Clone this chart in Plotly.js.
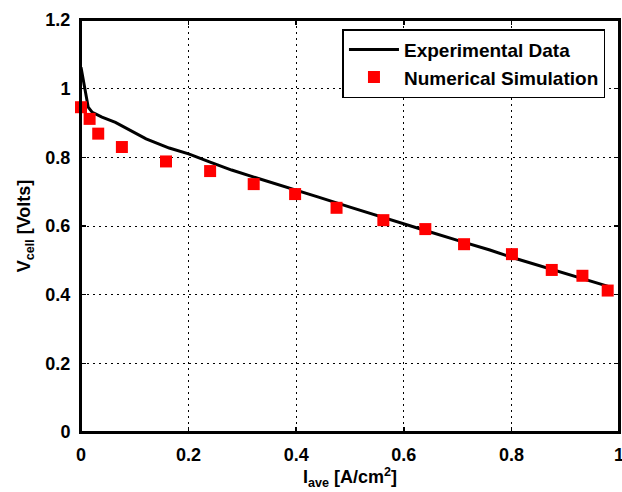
<!DOCTYPE html>
<html>
<head>
<meta charset="utf-8">
<script src="https://cdn.plot.ly/plotly-3.0.1.min.js"></script>
<style>html,body{margin:0;padding:0;background:#fff;overflow:hidden;}#chart{width:622px;height:492px;}</style>
</head>
<body>
<div id="chart"></div>
<script>
// Experimental data (line)
const expCurrent = [0, 0.005, 0.0096, 0.0134, 0.021, 0.039, 0.064, 0.09, 0.121, 0.164, 0.2, 0.24, 0.28, 0.32, 0.36, 0.40, 0.44, 0.50, 0.56, 0.60, 0.64, 0.70, 0.76, 0.80, 0.86, 0.92, 0.98];
const expVoltage = [1.062, 1.018, 0.980, 0.946, 0.931, 0.917, 0.902, 0.880, 0.854, 0.827, 0.810, 0.786, 0.763, 0.743, 0.724, 0.705, 0.685, 0.655, 0.625, 0.606, 0.587, 0.558, 0.530, 0.509, 0.481, 0.452, 0.424];
// Numerical simulation (markers)
const simCurrent = [0.0, 0.016, 0.032, 0.076, 0.158, 0.240, 0.321, 0.398, 0.475, 0.562, 0.640, 0.712, 0.801, 0.875, 0.932, 0.979];
const simVoltage = [0.946, 0.912, 0.869, 0.830, 0.788, 0.760, 0.722, 0.693, 0.653, 0.617, 0.591, 0.547, 0.518, 0.472, 0.455, 0.412];
const xTicks = [0, 0.2, 0.4, 0.6, 0.8, 1];
const xTickLabels = ['0', '0.2', '0.4', '0.6', '0.8', '1'];
const yTicks = [0, 0.2, 0.4, 0.6, 0.8, 1, 1.2];
const yTickLabels = ['0', '0.2', '0.4', '0.6', '0.8', '1', '1.2'];

const font = {family: 'Liberation Sans, Arial, sans-serif', size: 18, color: '#000', weight: 'bold'};

const traces = [
  {x: expCurrent, y: expVoltage, type: 'scatter', mode: 'lines', name: 'Experimental Data',
   line: {color: '#000', width: 3}, cliponaxis: false},
  {x: simCurrent, y: simVoltage, type: 'scatter', mode: 'markers', name: 'Numerical Simulation',
   marker: {symbol: 'square', color: '#ff0000', size: 12, line: {width: 0}}, cliponaxis: false}
];

const axisCommon = {
  showline: true, linecolor: '#000', linewidth: 2, mirror: 'allticks',
  ticks: 'inside', ticklen: 5, tickwidth: 1.5, tickcolor: '#000',
  showgrid: true, gridcolor: '#000', gridwidth: 1, griddash: '2px,4px',
  zeroline: false, tickfont: font, ticklabelstandoff: 5, ticklabeloverflow: 'allow'
};

const layout = {
  width: 622, height: 492,
  margin: {l: 81, r: 3, t: 20, b: 60},
  paper_bgcolor: '#fff', plot_bgcolor: '#fff',
  font: font,
  showlegend: true,
  legend: {x: 0.486, y: 0.978, xanchor: 'left', yanchor: 'top', bgcolor: '#fff',
           bordercolor: '#000', borderwidth: 1.5, itemwidth: 50,
           font: {family: font.family, size: 19, color: '#000', weight: 'bold'}},
  xaxis: Object.assign({}, axisCommon, {
    range: [0, 1], tickvals: xTicks, ticktext: xTickLabels,
    title: {text: 'I<sub>ave</sub> [A/cm<sup>2</sup>]', font: font, standoff: 2}
  }),
  yaxis: Object.assign({}, axisCommon, {
    range: [0, 1.2], tickvals: yTicks, ticktext: yTickLabels,
    title: {text: 'V<sub>cell</sub> [Volts]', font: font, standoff: 10}
  }),
  shapes: [
    {type: 'rect', xref: 'paper', yref: 'paper', x0: 0, x1: 1, y0: 0, y1: 1,
     line: {color: '#000', width: 2}, fillcolor: 'rgba(0,0,0,0)', layer: 'above'}
  ]
};

Plotly.newPlot('chart', traces, layout, {staticPlot: true, displayModeBar: false});
</script>
</body>
</html>
